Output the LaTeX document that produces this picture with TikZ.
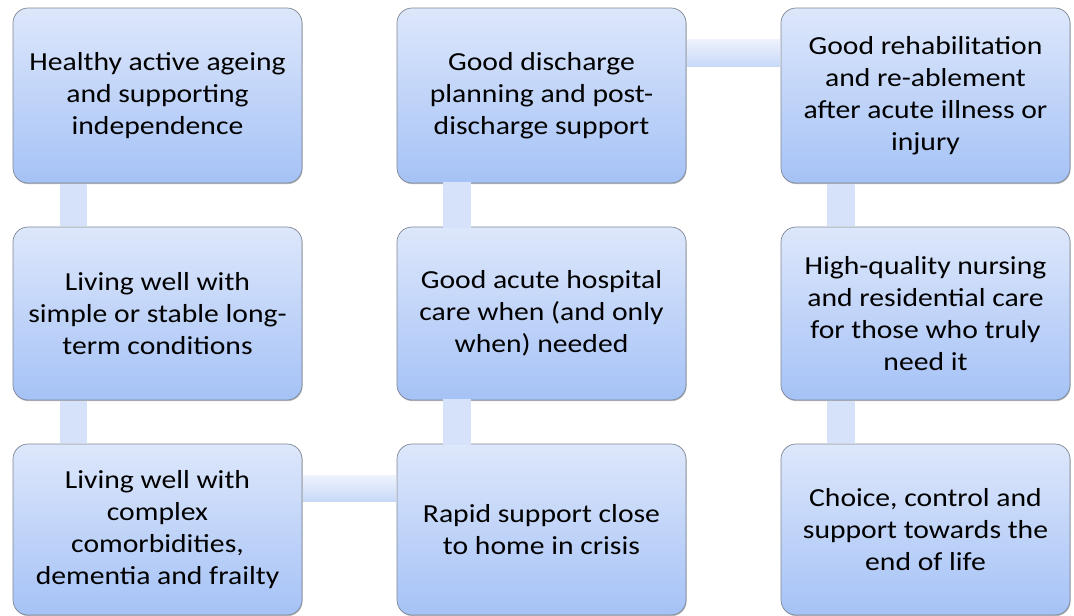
\documentclass[tikz,border=0pt]{standalone}
\usepackage{fontspec}
\setmainfont[FakeStretch=1.14]{Carlito}
\usetikzlibrary{shadows,calc}
\definecolor{boxtop}{HTML}{DDE7FB}
\definecolor{boxbot}{HTML}{A5C2F6}
\definecolor{boxline}{HTML}{7D8796}
\definecolor{conntop}{HTML}{EEF3FD}
\definecolor{connbot}{HTML}{C8D9F8}
\definecolor{vconn}{HTML}{D6E2FA}
\tikzset{
  stage/.style={draw=boxline, line width=0.7pt, rounded corners=15pt,
    top color=boxtop, bottom color=boxbot, anchor=north west,
    minimum width=289pt, inner sep=0pt, outer sep=0pt, align=center,
    font=\fontsize{26}{32}\selectfont, text=black,
    drop shadow={shadow xshift=0.6pt, shadow yshift=-1.2pt, opacity=0.45, fill=black!60}},
  hlink/.style={top color=conntop, bottom color=connbot},
  vlink/.style={fill=vconn},
}
\begin{document}
\begin{tikzpicture}[x=1pt,y=-1pt]
\useasboundingbox (0,0) rectangle (1074,616);
% nodes
\node[stage, minimum height=175pt] (a1) at (13,8) {Healthy active ageing\\and supporting\\independence};
\node[stage, minimum height=173pt] (a2) at (13,227) {Living well with\\simple or stable long-\\term conditions};
\node[stage, minimum height=171pt] (a3) at (13,444) {Living well with\\complex\\comorbidities,\\dementia and frailty};
\node[stage, minimum height=175pt] (b1) at (397,8) {Good discharge\\planning and post-\\discharge support};
\node[stage, minimum height=173pt] (b2) at (397,227) {Good acute hospital\\care when (and only\\when) needed};
\node[stage, minimum height=171pt] (b3) at (397,444) {Rapid support close\\to home in crisis};
\node[stage, minimum height=175pt] (c1) at (781,8) {Good rehabilitation\\and re-ablement\\after acute illness or\\injury};
\node[stage, minimum height=173pt] (c2) at (781,227) {High-quality nursing\\and residential care\\for those who truly\\need it};
\node[stage, minimum height=171pt] (c3) at (781,444) {Choice, control and\\support towards the\\end of life};
% vertical links
\fill[vlink] ([xshift=47pt,yshift=-1pt]a1.south west) rectangle ([xshift=74pt,yshift=1pt]a2.north west);
\fill[vlink] ([xshift=47pt,yshift=-1pt]a2.south west) rectangle ([xshift=74pt,yshift=1pt]a3.north west);
\fill[vlink] ([xshift=46pt,yshift=-1pt]b3.north west) rectangle ([xshift=74pt,yshift=1pt]b2.south west);
\fill[vlink] ([xshift=46pt,yshift=-1pt]b2.north west) rectangle ([xshift=74pt,yshift=1pt]b1.south west);
\fill[vlink] ([xshift=46pt,yshift=-1pt]c1.south west) rectangle ([xshift=74pt,yshift=1pt]c2.north west);
\fill[vlink] ([xshift=46pt,yshift=-1pt]c2.south west) rectangle ([xshift=74pt,yshift=1pt]c3.north west);
% horizontal links
\shade[hlink] ([xshift=1pt,yshift=-31pt]a3.north east) rectangle ([xshift=-1pt,yshift=-57pt]b3.north west);
\shade[hlink] ([xshift=1pt,yshift=-31pt]b1.north east) rectangle ([xshift=-1pt,yshift=-58pt]c1.north west);
\end{tikzpicture}
\end{document}
